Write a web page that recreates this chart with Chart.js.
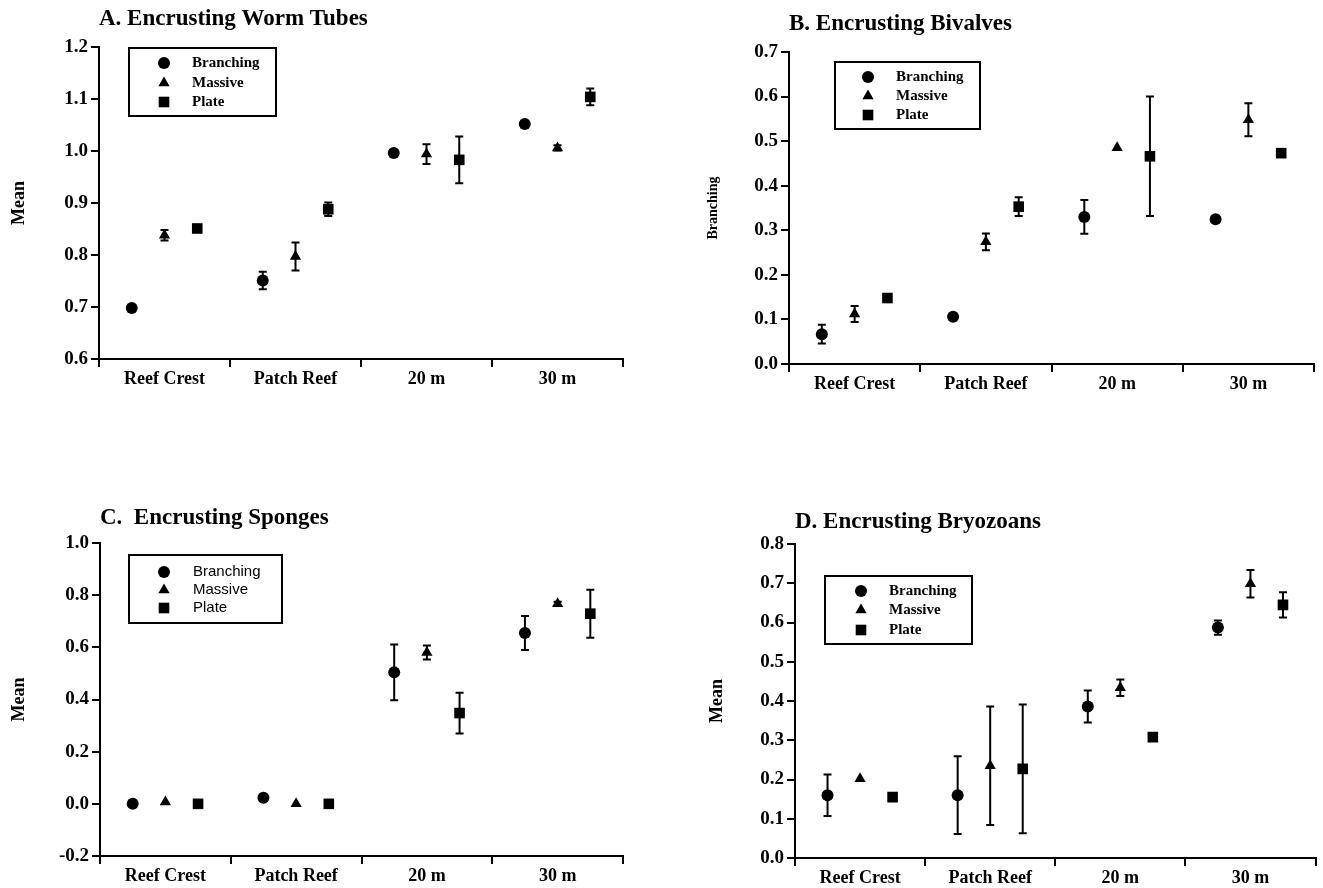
<!DOCTYPE html>
<html>
<head>
<meta charset="utf-8">
<title>Encrusting organisms by reef zone and coral growth form</title>
<script src="https://cdn.jsdelivr.net/npm/chart.js@4.4.1/dist/chart.umd.min.js"></script>
<style>
  body { margin: 0; background: #fff; }
  #wrap { position: relative; width: 1323px; height: 888px; }
  canvas { position: absolute; }
</style>
</head>
<body>
<div id="wrap">
  <canvas id="chartA" width="661" height="444" style="left:0;top:0"></canvas>
  <canvas id="chartB" width="662" height="444" style="left:661px;top:0"></canvas>
  <canvas id="chartC" width="661" height="444" style="left:0;top:444px"></canvas>
  <canvas id="chartD" width="662" height="444" style="left:661px;top:444px"></canvas>
</div>
<script>
var sites = ['Reef Crest', 'Patch Reef', '20 m', '30 m'];
var forms = ['Branching', 'Massive', 'Plate'];

// A. worm tubes
var wormBranching = [0.698, 0.751, 0.996, 1.052];
var wormBranchingErr = [0, 0.017, 0, 0];
var wormMassive = [0.838, 0.797, 0.994, 1.006];
var wormMassiveErr = [0.010, 0.027, 0.019, 0.005];
var wormPlate = [0.851, 0.888, 0.983, 1.104];
var wormPlateErr = [0, 0.013, 0.045, 0.016];

// B. bivalves
var bivBranching = [0.067, 0.106, 0.330, 0.325];
var bivBranchingErr = [0.021, 0.005, 0.038, 0];
var bivMassive = [0.112, 0.274, 0.485, 0.548];
var bivMassiveErr = [0.018, 0.019, 0, 0.037];
var bivPlate = [0.148, 0.353, 0.466, 0.473];
var bivPlateErr = [0, 0.021, 0.134, 0];

// C. sponges
var spoBranching = [0.0, 0.023, 0.504, 0.655];
var spoBranchingErr = [0, 0, 0.107, 0.065];
var spoMassive = [0.007, 0.0, 0.580, 0.767];
var spoMassiveErr = [0, 0, 0.027, 0.008];
var spoPlate = [0.0, 0.0, 0.348, 0.729];
var spoPlateErr = [0, 0, 0.078, 0.092];

// D. bryozoans
var bryBranching = [0.160, 0.160, 0.386, 0.587];
var bryBranchingErr = [0.053, 0.099, 0.041, 0.018];
var bryMassive = [0.202, 0.235, 0.434, 0.699];
var bryMassiveErr = [0, 0.151, 0.021, 0.035];
var bryPlate = [0.155, 0.227, 0.308, 0.645];
var bryPlateErr = [0.010, 0.164, 0, 0.032];

var serif = "'Liberation Serif', 'Times New Roman', serif";
var shapes = [
    { style: 'circle', radius: 6 },
    { style: 'triangle', radius: 6.5 },
    { style: 'rect', radius: 7.5 }
];
var formOffset = [0.25, 0.5, 0.75];

// vertical error bars, drawn through the y scale
var errorBars = {
    id: 'errorBars',
    afterDatasetsDraw: function (chart) {
        var ctx = chart.ctx;
        var yScale = chart.scales.y;
        ctx.save();
        ctx.strokeStyle = '#000';
        ctx.lineWidth = 2;
        chart.data.datasets.forEach(function (ds, i) {
            var meta = chart.getDatasetMeta(i);
            ds.errors.forEach(function (err, j) {
                if (!err) return;
                var px = meta.data[j].x;
                var top = yScale.getPixelForValue(ds.data[j].y + err);
                var bot = yScale.getPixelForValue(ds.data[j].y - err);
                ctx.beginPath();
                ctx.moveTo(px, top); ctx.lineTo(px, bot);
                ctx.moveTo(px - 4, top); ctx.lineTo(px + 4, top);
                ctx.moveTo(px - 4, bot); ctx.lineTo(px + 4, bot);
                ctx.stroke();
            });
        });
        ctx.restore();
    }
};

// framed legend inside the plot area
var boxLegend = {
    id: 'boxLegend',
    afterDraw: function (chart, args, opts) {
        var ctx = chart.ctx;
        var area = chart.chartArea;
        var x0 = area.left + opts.dx;
        var y0 = area.top + opts.dy;
        ctx.save();
        ctx.lineWidth = 2;
        ctx.strokeStyle = '#000';
        ctx.strokeRect(x0, y0, opts.w, opts.h);
        ctx.fillStyle = '#000';
        ctx.font = opts.font;
        ctx.textBaseline = 'middle';
        ctx.textAlign = 'left';
        chart.data.datasets.forEach(function (ds, i) {
            var y = y0 + opts.rows[i];
            Chart.helpers.drawPoint(ctx, { pointStyle: ds.pointStyle, radius: ds.pointRadius, rotation: 0, borderWidth: 0 }, x0 + opts.symbolX, y);
            ctx.fillText(ds.label, x0 + opts.textX, y);
        });
        ctx.restore();
    }
};

function makeDataset(i, values, errors) {
    return {
        label: forms[i],
        data: values.map(function (v, k) { return { x: k + formOffset[i], y: v }; }),
        errors: errors,
        pointStyle: shapes[i].style,
        pointRadius: shapes[i].radius,
        pointHoverRadius: shapes[i].radius,
        backgroundColor: '#000',
        borderColor: '#000',
        borderWidth: 0,
        showLine: false
    };
}

function createChart(canvasId, p) {
    var ctx = document.getElementById(canvasId).getContext('2d');
    return new Chart(ctx, {
        type: 'scatter',
        data: { datasets: p.datasets },
        options: {
            responsive: false,
            animation: false,
            layout: { padding: { left: 0, right: p.padRight, top: 0, bottom: 0 } },
            plugins: {
                legend: { display: false },
                tooltip: { enabled: false },
                title: {
                    display: true,
                    text: p.title,
                    align: 'start',
                    fullSize: false,
                    color: '#000',
                    font: { family: serif, size: 23, weight: 'bold' },
                    padding: { top: p.titleTop, bottom: p.titleBottom }
                },
                boxLegend: p.legend
            },
            scales: {
                x: {
                    type: 'linear',
                    min: 0,
                    max: 4,
                    afterFit: function (s) { s.height = p.xHeight; },
                    border: { display: true, width: 2, color: '#000' },
                    grid: {
                        drawOnChartArea: false,
                        tickLength: 8,
                        lineWidth: 2,
                        color: function (c) {
                            return c.tick && Number.isInteger(c.tick.value) ? '#000' : 'rgba(0,0,0,0)';
                        }
                    },
                    ticks: {
                        stepSize: 0.5,
                        autoSkip: false,
                        maxRotation: 0,
                        padding: 2,
                        color: '#000',
                        font: { family: serif, size: 18, weight: 'bold' },
                        callback: function (v) {
                            var k = Math.floor(v);
                            return Math.abs(v - k - 0.5) < 1e-6 ? sites[k] : '';
                        }
                    }
                },
                y: {
                    min: p.yMin,
                    max: p.yMax,
                    afterFit: function (s) { s.width = p.yWidth; },
                    border: { display: true, width: 2, color: '#000' },
                    grid: { drawOnChartArea: false, tickLength: 8, lineWidth: 2, color: '#000' },
                    ticks: {
                        stepSize: p.yStep,
                        padding: 3,
                        color: '#000',
                        font: { family: serif, size: 19, weight: 'bold' },
                        callback: function (v) {
                            return Math.abs(v) < 1e-9 ? '0.0' : v.toFixed(1);
                        }
                    },
                    title: {
                        display: true,
                        text: p.yTitle,
                        color: '#000',
                        font: { family: serif, size: p.yTitleSize, weight: 'bold' },
                        padding: { top: p.yTitlePad, bottom: 0 }
                    }
                }
            }
        },
        plugins: [errorBars, boxLegend]
    });
}

createChart('chartA', {
    title: 'A. Encrusting Worm Tubes',
    titleTop: 5.2, titleBottom: 14.2,
    padRight: 38, yWidth: 99, xHeight: 85,
    yMin: 0.6, yMax: 1.2, yStep: 0.1,
    yTitle: 'Mean', yTitleSize: 18, yTitlePad: 9,
    datasets: [
        makeDataset(0, wormBranching, wormBranchingErr),
        makeDataset(1, wormMassive, wormMassiveErr),
        makeDataset(2, wormPlate, wormPlateErr)
    ],
    legend: { dx: 30, dy: 1, w: 147, h: 68, symbolX: 35, textX: 63, rows: [15, 35, 54],
              font: "bold 15px " + serif }
});

createChart('chartB', {
    title: 'B. Encrusting Bivalves',
    titleTop: 10.2, titleBottom: 14.2,
    padRight: 9, yWidth: 128, xHeight: 80,
    yMin: 0, yMax: 0.7, yStep: 0.1,
    yTitle: 'Branching', yTitleSize: 14, yTitlePad: 44,
    datasets: [
        makeDataset(0, bivBranching, bivBranchingErr),
        makeDataset(1, bivMassive, bivMassiveErr),
        makeDataset(2, bivPlate, bivPlateErr)
    ],
    legend: { dx: 46, dy: 10, w: 145, h: 67, symbolX: 33, textX: 61, rows: [15, 34, 53],
              font: "bold 15px " + serif }
});

createChart('chartC', {
    title: 'C.  Encrusting Sponges',
    titleTop: 60.2, titleBottom: 11.2,
    padRight: 38, yWidth: 100, xHeight: 32,
    yMin: -0.2, yMax: 1.0, yStep: 0.2,
    yTitle: 'Mean', yTitleSize: 18, yTitlePad: 9,
    datasets: [
        makeDataset(0, spoBranching, spoBranchingErr),
        makeDataset(1, spoMassive, spoMassiveErr),
        makeDataset(2, spoPlate, spoPlateErr)
    ],
    legend: { dx: 29, dy: 12, w: 153, h: 68, symbolX: 35, textX: 64, rows: [17, 35, 53],
              font: "15px 'Liberation Sans', Arial, sans-serif" }
});

createChart('chartD', {
    title: 'D. Encrusting Bryozoans',
    titleTop: 64.2, titleBottom: 8.2,
    padRight: 2, yWidth: 134, xHeight: 30,
    yMin: 0, yMax: 0.8, yStep: 0.1,
    yTitle: 'Mean', yTitleSize: 18, yTitlePad: 46,
    datasets: [
        makeDataset(0, bryBranching, bryBranchingErr),
        makeDataset(1, bryMassive, bryMassiveErr),
        makeDataset(2, bryPlate, bryPlateErr)
    ],
    legend: { dx: 30, dy: 32, w: 147, h: 68, symbolX: 36, textX: 64, rows: [15, 34, 54],
              font: "bold 15px " + serif }
});
</script>
</body>
</html>
